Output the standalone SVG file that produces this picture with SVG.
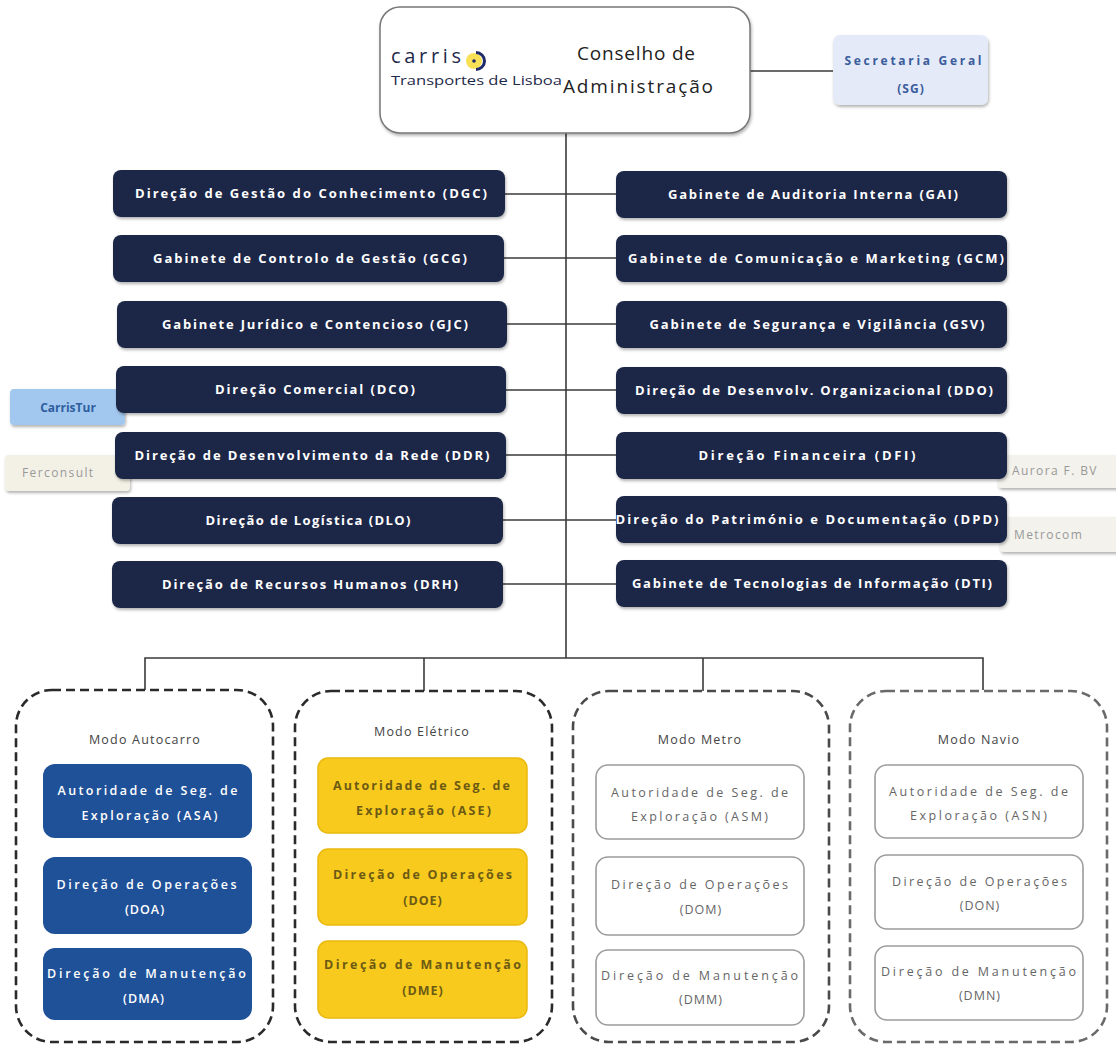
<svg xmlns="http://www.w3.org/2000/svg" width="1116" height="1049" viewBox="0 0 1116 1049">
<defs>
<filter id="sh" x="-10%" y="-20%" width="120%" height="150%">
<feDropShadow dx="1" dy="2" stdDeviation="1.8" flood-color="#000" flood-opacity="0.3"/>
</filter>
<style>
.conn{stroke:#3a3a3a;stroke-width:1.6;fill:none}
.navy{fill:#1B2846}
.nt{font-family:"Open Sans","Liberation Sans",sans-serif;font-size:13px;font-weight:700;fill:#ffffff;text-anchor:middle}
.grp{fill:none;stroke-width:2.6;stroke-dasharray:9 5}
.mt{font-family:"Open Sans","Liberation Sans",sans-serif;font-size:12.5px;fill:#444;text-anchor:middle;letter-spacing:1.2px}
.blue{fill:#1F5199}
.bt{font-family:"Open Sans","Liberation Sans",sans-serif;font-size:12.5px;font-weight:600;fill:#fff;text-anchor:middle;letter-spacing:1px}
.yel{fill:#F8CA1E;stroke:#EAB90E;stroke-width:1.5}
.yt{font-family:"Open Sans","Liberation Sans",sans-serif;font-size:12.5px;font-weight:700;fill:#6C5A14;text-anchor:middle;letter-spacing:1px}
.gry{fill:#fff;stroke:#9c9c9c;stroke-width:1.6}
.gt{font-family:"Open Sans","Liberation Sans",sans-serif;font-size:12.5px;fill:#666;text-anchor:middle;letter-spacing:1px}
.side{font-family:"Open Sans","Liberation Sans",sans-serif;font-size:12px;fill:#999;letter-spacing:1.4px}
</style>
</defs>
<rect width="1116" height="1049" fill="#fff"/>

<g id="connectors">
<line class="conn" x1="566" y1="133" x2="566" y2="658"/>
<line class="conn" x1="750" y1="71" x2="833" y2="71"/>
<line class="conn" x1="505" y1="194" x2="616" y2="194"/>
<line class="conn" x1="504" y1="258" x2="616" y2="258"/>
<line class="conn" x1="507" y1="324" x2="616" y2="324"/>
<line class="conn" x1="506" y1="390" x2="616" y2="390"/>
<line class="conn" x1="506" y1="455" x2="616" y2="455"/>
<line class="conn" x1="503" y1="520" x2="616" y2="520"/>
<line class="conn" x1="503" y1="584" x2="616" y2="584"/>
<polyline class="conn" points="145,690 145,658 983,658 983,690"/>
<line class="conn" x1="424" y1="658" x2="424" y2="691"/>
<line class="conn" x1="703" y1="658" x2="703" y2="691"/>
</g>

<g id="ceo">
<rect x="380" y="7" width="370" height="126" rx="20" fill="#fff" stroke="#777" stroke-width="1.5" filter="url(#sh)"/>
<text x="391" y="63" font-family="'Open Sans','Liberation Sans',sans-serif" font-size="20" fill="#1E2A4A" textLength="70" lengthAdjust="spacing">carris</text>
<circle cx="474" cy="61" r="8" fill="#F7DC3A" opacity="0.85"/>
<path d="M476 52.5 A8.5 8.5 0 0 1 476 69.5" fill="none" stroke="#1E2A6A" stroke-width="3"/>
<circle cx="474" cy="61" r="1.8" fill="#1E2A6A"/>
<text x="391" y="85" font-family="'Open Sans','Liberation Sans',sans-serif" font-size="13" fill="#1E2A4A" textLength="171" lengthAdjust="spacingAndGlyphs">Transportes de Lisboa</text>
<text x="636" y="60" font-family="'Open Sans','Liberation Sans',sans-serif" font-size="19" fill="#222" text-anchor="middle" textLength="118" lengthAdjust="spacing">Conselho de</text>
<text x="638" y="93" font-family="'Open Sans','Liberation Sans',sans-serif" font-size="19" fill="#222" text-anchor="middle" textLength="150" lengthAdjust="spacing">Administração</text>
</g>

<g id="sg">
<rect x="833" y="35" width="155" height="70" rx="7" fill="#E4EAF8" filter="url(#sh)"/>
<text x="913" y="65" font-family="'Open Sans','Liberation Sans',sans-serif" font-size="12" font-weight="700" fill="#3A5C9C" text-anchor="middle" textLength="137" lengthAdjust="spacing">Secretaria Geral</text>
<text x="911" y="93" font-family="'Open Sans','Liberation Sans',sans-serif" font-size="12" font-weight="700" fill="#3A5C9C" text-anchor="middle" letter-spacing="1">(SG)</text>
</g>

<g id="carristur">
<rect x="10" y="389" width="115" height="36" rx="4" fill="#A3C8F0" filter="url(#sh)"/>
<text x="68" y="412" font-family="'Open Sans','Liberation Sans',sans-serif" font-size="12" font-weight="700" fill="#2E5E9E" text-anchor="middle">CarrisTur</text>
</g>
<g id="ferconsult">
<rect x="5" y="455" width="125" height="36" rx="4" fill="#F3F1E6" filter="url(#sh)"/>
<text x="22" y="477" class="side">Ferconsult</text>
</g>
<g id="aurora">
<rect x="998" y="455" width="125" height="33" rx="4" fill="#F3F2EC" filter="url(#sh)"/>
<text x="1012" y="475" class="side">Aurora F. BV</text>
</g>
<g id="metrocom">
<rect x="1000" y="517" width="123" height="35" rx="4" fill="#F3F2EC" filter="url(#sh)"/>
<text x="1014" y="539" class="side">Metrocom</text>
</g>

<g id="dgc"><rect class="navy" x="113" y="170" width="392" height="47" rx="8" filter="url(#sh)"/><text class="nt" x="311" y="198" textLength="352" lengthAdjust="spacing">Direção de Gestão do Conhecimento (DGC)</text></g>
<g id="gcg"><rect class="navy" x="113" y="235" width="391" height="47" rx="8" filter="url(#sh)"/><text class="nt" x="310" y="263" textLength="314" lengthAdjust="spacing">Gabinete de Controlo de Gestão (GCG)</text></g>
<g id="gjc"><rect class="navy" x="117" y="301" width="390" height="47" rx="8" filter="url(#sh)"/><text class="nt" x="315" y="329" textLength="306" lengthAdjust="spacing">Gabinete Jurídico e Contencioso (GJC)</text></g>
<g id="dco"><rect class="navy" x="116" y="366" width="390" height="47" rx="8" filter="url(#sh)"/><text class="nt" x="315" y="394" textLength="200" lengthAdjust="spacing">Direção Comercial (DCO)</text></g>
<g id="ddr"><rect class="navy" x="115" y="432" width="391" height="47" rx="8" filter="url(#sh)"/><text class="nt" x="312" y="460" textLength="355" lengthAdjust="spacing">Direção de Desenvolvimento da Rede (DDR)</text></g>
<g id="dlo"><rect class="navy" x="112" y="497" width="391" height="47" rx="8" filter="url(#sh)"/><text class="nt" x="308" y="525" textLength="205" lengthAdjust="spacing">Direção de Logística (DLO)</text></g>
<g id="drh"><rect class="navy" x="112" y="561" width="391" height="47" rx="8" filter="url(#sh)"/><text class="nt" x="310" y="589" textLength="296" lengthAdjust="spacing">Direção de Recursos Humanos (DRH)</text></g>

<g id="gai"><rect class="navy" x="616" y="171" width="391" height="47" rx="8" filter="url(#sh)"/><text class="nt" x="813" y="199" textLength="290" lengthAdjust="spacing">Gabinete de Auditoria Interna (GAI)</text></g>
<g id="gcm"><rect class="navy" x="616" y="235" width="391" height="47" rx="8" filter="url(#sh)"/><text class="nt" x="816" y="263" textLength="376" lengthAdjust="spacing">Gabinete de Comunicação e Marketing (GCM)</text></g>
<g id="gsv"><rect class="navy" x="616" y="301" width="391" height="47" rx="8" filter="url(#sh)"/><text class="nt" x="817" y="329" textLength="335" lengthAdjust="spacing">Gabinete de Segurança e Vigilância (GSV)</text></g>
<g id="ddo"><rect class="navy" x="616" y="367" width="391" height="47" rx="8" filter="url(#sh)"/><text class="nt" x="814" y="395" textLength="358" lengthAdjust="spacing">Direção de Desenvolv. Organizacional (DDO)</text></g>
<g id="dfi"><rect class="navy" x="616" y="432" width="391" height="47" rx="8" filter="url(#sh)"/><text class="nt" x="807" y="460" textLength="217" lengthAdjust="spacing">Direção Financeira (DFI)</text></g>
<g id="dpd"><rect class="navy" x="616" y="496" width="391" height="47" rx="8" filter="url(#sh)"/><text class="nt" x="807" y="524" textLength="383" lengthAdjust="spacing">Direção do Património e Documentação (DPD)</text></g>
<g id="dti"><rect class="navy" x="616" y="560" width="391" height="47" rx="8" filter="url(#sh)"/><text class="nt" x="812" y="588" textLength="360" lengthAdjust="spacing">Gabinete de Tecnologias de Informação (DTI)</text></g>

<g id="modo-autocarro">
<rect class="grp" x="16" y="690" width="257" height="352" rx="36" stroke="#2a2a2a"/>
<text class="mt" x="145" y="744">Modo Autocarro</text>
<g id="asa"><rect class="blue" x="43" y="764" width="209" height="74" rx="12"/><text class="bt" x="148" y="795" textLength="181" lengthAdjust="spacing">Autoridade de Seg. de</text><text class="bt" x="150" y="820" textLength="137" lengthAdjust="spacing">Exploração (ASA)</text></g>
<g id="doa"><rect class="blue" x="43" y="857" width="209" height="77" rx="12"/><text class="bt" x="147" y="889" textLength="181" lengthAdjust="spacing">Direção de Operações</text><text class="bt" x="145" y="914">(DOA)</text></g>
<g id="dma"><rect class="blue" x="43" y="948" width="209" height="72" rx="12"/><text class="bt" x="147" y="978" textLength="200" lengthAdjust="spacing">Direção de Manutenção</text><text class="bt" x="144" y="1003">(DMA)</text></g>
</g>

<g id="modo-eletrico">
<rect class="grp" x="295" y="691" width="257" height="351" rx="36" stroke="#2a2a2a"/>
<text class="mt" x="422" y="736">Modo Elétrico</text>
<g id="ase"><rect class="yel" x="318" y="758" width="209" height="75" rx="10"/><text class="yt" x="422" y="790" textLength="178" lengthAdjust="spacing">Autoridade de Seg. de</text><text class="yt" x="424" y="815" textLength="136" lengthAdjust="spacing">Exploração (ASE)</text></g>
<g id="doe"><rect class="yel" x="318" y="849" width="209" height="76" rx="10"/><text class="yt" x="423" y="879" textLength="180" lengthAdjust="spacing">Direção de Operações</text><text class="yt" x="423" y="905">(DOE)</text></g>
<g id="dme"><rect class="yel" x="318" y="941" width="209" height="77" rx="10"/><text class="yt" x="423" y="969" textLength="198" lengthAdjust="spacing">Direção de Manutenção</text><text class="yt" x="423" y="995">(DME)</text></g>
</g>

<g id="modo-metro">
<rect class="grp" x="573" y="691" width="256" height="351" rx="36" stroke="#4a4a4a"/>
<text class="mt" x="700" y="744">Modo Metro</text>
<g id="asm"><rect class="gry" x="596" y="765" width="208" height="74" rx="12"/><text class="gt" x="700" y="797" textLength="178" lengthAdjust="spacing">Autoridade de Seg. de</text><text class="gt" x="700" y="821" textLength="138" lengthAdjust="spacing">Exploração (ASM)</text></g>
<g id="dom"><rect class="gry" x="596" y="857" width="208" height="78" rx="12"/><text class="gt" x="700" y="889" textLength="178" lengthAdjust="spacing">Direção de Operações</text><text class="gt" x="701" y="914">(DOM)</text></g>
<g id="dmm"><rect class="gry" x="596" y="950" width="208" height="75" rx="12"/><text class="gt" x="700" y="980" textLength="198" lengthAdjust="spacing">Direção de Manutenção</text><text class="gt" x="701" y="1004">(DMM)</text></g>
</g>

<g id="modo-navio">
<rect class="grp" x="850" y="691" width="257" height="351" rx="36" stroke="#6a6a6a"/>
<text class="mt" x="979" y="744">Modo Navio</text>
<g id="asn"><rect class="gry" x="875" y="765" width="208" height="73" rx="12"/><text class="gt" x="979" y="796" textLength="180" lengthAdjust="spacing">Autoridade de Seg. de</text><text class="gt" x="979" y="820" textLength="138" lengthAdjust="spacing">Exploração (ASN)</text></g>
<g id="don"><rect class="gry" x="875" y="855" width="208" height="74" rx="12"/><text class="gt" x="980" y="886" textLength="176" lengthAdjust="spacing">Direção de Operações</text><text class="gt" x="980" y="910">(DON)</text></g>
<g id="dmn"><rect class="gry" x="875" y="946" width="208" height="74" rx="12"/><text class="gt" x="979" y="976" textLength="196" lengthAdjust="spacing">Direção de Manutenção</text><text class="gt" x="980" y="1000">(DMN)</text></g>
</g>
</svg>
